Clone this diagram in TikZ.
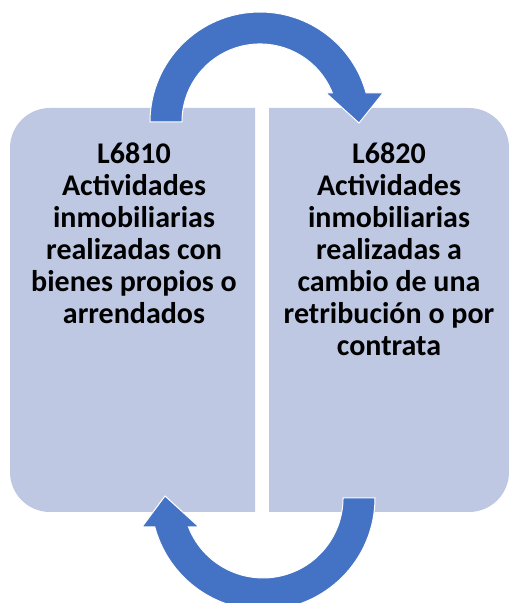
\documentclass[tikz,border=0pt]{standalone}
\usepackage{fontspec}
\setmainfont{Carlito}
\definecolor{boxfill}{HTML}{BEC8E3}
\definecolor{arrowblue}{HTML}{4472C4}

\begin{document}
\begin{tikzpicture}[x=1pt,y=1pt,
    turn/.style={fill=arrowblue, draw=white, line width=1pt},
    boxtext/.style={align=center, anchor=north, inner sep=0pt,
        font=\bfseries\fontsize{30}{32}\selectfont}]
    \useasboundingbox (0,0) rectangle (509,603);
    % two panels, rounded on their outer side
    \fill[boxfill] (255,91) -- (50,91) arc[start angle=270,end angle=180,radius=40]
        -- (10,455) arc[start angle=180,end angle=90,radius=40] -- (255,495) -- cycle;
    \fill[boxfill] (269,91) -- (469,91) arc[start angle=-90,end angle=0,radius=40]
        -- (509,455) arc[start angle=0,end angle=90,radius=40] -- (269,495) -- cycle;
    % curved arrows
    \coordinate (topc) at (260,481);
    \coordinate (botc) at (263,105);
    \draw[turn] (topc) ++(180:110) arc[start angle=180,end angle=15.3,radius=110]
        -- (383,510) -- (359,480) -- (326,510) -- (332.4,510)
        arc[start angle=21.8,end angle=180,radius=78] -- cycle;
    \draw[turn] (botc) ++(0:112) arc[start angle=0,end angle=-165,radius=112]
        -- (142,76) -- (165,107) -- (199,76) -- (188.5,76)
        arc[start angle=-158.7,end angle=0,radius=80] -- cycle;
    \node[boxtext] (l6810) at (134,460)
        {L6810\\Actividades\\inmobiliarias\\realizadas con\\bienes propios o\\arrendados};
    \node[boxtext] (l6820) at (389,460)
        {L6820\\Actividades\\inmobiliarias\\realizadas a\\cambio de una\\retribución o por\\contrata};
\end{tikzpicture}
\end{document}
